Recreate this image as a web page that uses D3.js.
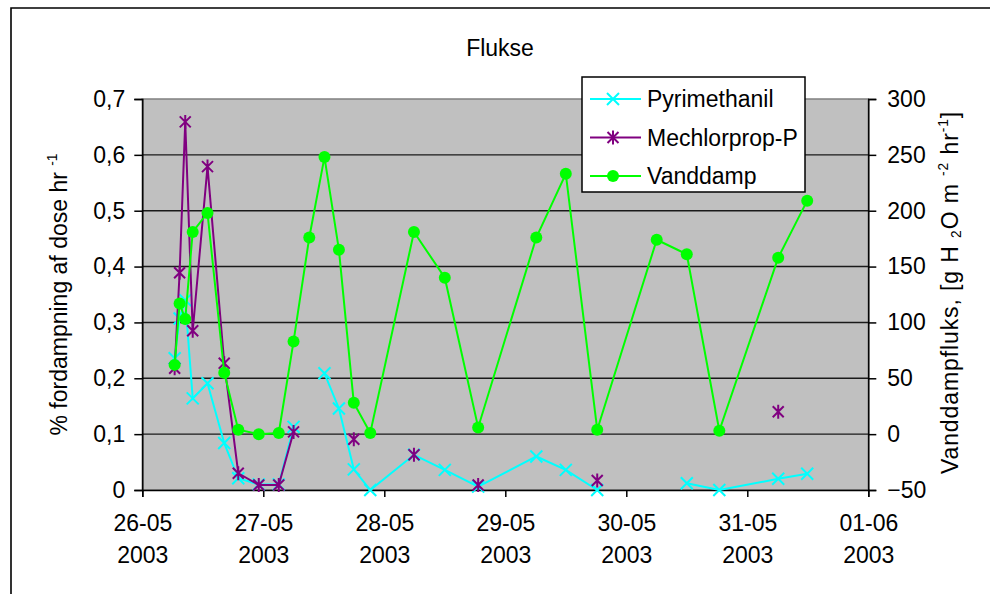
<!DOCTYPE html>
<html>
<head>
<meta charset="utf-8">
<script src="https://cdn.jsdelivr.net/npm/d3@7/dist/d3.min.js"></script>
<style>
  html, body { margin: 0; padding: 0; background: #fff; }
  svg { display: block; font-family: "Liberation Sans", Arial, sans-serif; }
</style>
</head>
<body>
<svg id="chart" width="990" height="594"></svg>
<script>
// Sampling times (shared by all three series)
const times = [
  "2003-05-26 06:25", "2003-05-26 07:24", "2003-05-26 08:31", "2003-05-26 10:00",
  "2003-05-26 12:56", "2003-05-26 16:15", "2003-05-26 19:02", "2003-05-26 23:06",
  "2003-05-27 03:04", "2003-05-27 06:00", "2003-05-27 09:07", "2003-05-27 12:08",
  "2003-05-27 15:00", "2003-05-27 17:57", "2003-05-27 21:13", "2003-05-28 05:53",
  "2003-05-28 12:00", "2003-05-28 18:37", "2003-05-29 06:09", "2003-05-29 12:00",
  "2003-05-29 18:14", "2003-05-30 06:02", "2003-05-30 12:00", "2003-05-30 18:27",
  "2003-05-31 06:08", "2003-05-31 11:53"
];

// % volatilised of dose per hour (left axis)
const pyrimethanil = [
  0.236, 0.307, 0.340, 0.164, 0.191, 0.084, 0.021, 0.010, 0.010, 0.113,
  null, 0.209, 0.146, 0.037, 0.000, 0.063, 0.036, 0.006, 0.060, 0.036,
  0.000, null, 0.012, 0.000, 0.020, 0.029
];
const mechlorprop = [
  0.218, 0.389, 0.659, 0.285, 0.579, 0.227, 0.030, 0.009, 0.009, 0.104,
  null, null, null, 0.091, null, 0.063, null, 0.009, null, null,
  0.017, null, null, null, 0.140, null
];

// Water vapour flux, g H2O m-2 hr-1 (right axis)
const vanddamp = [
  62, 117, 103, 181, 198, 55, 4, 0, 1, 83,
  176, 248, 165, 28, 1, 181, 140, 6, 176, 233,
  4, 174, 161, 3, 158, 209
];

const leftTicks = [0, 0.1, 0.2, 0.3, 0.4, 0.5, 0.6, 0.7];
const rightTicks = [-50, 0, 50, 100, 150, 200, 250, 300];
const dateTicks = ["2003-05-26", "2003-05-27", "2003-05-28", "2003-05-29",
                   "2003-05-30", "2003-05-31", "2003-06-01"];

const seriesNames = ["Pyrimethanil", "Mechlorprop-P", "Vanddamp"];
const seriesColors = ["#00FFFF", "#800080", "#00FF00"];

const parseTime = d3.timeParse("%Y-%m-%d %H:%M");
const parseDay = d3.timeParse("%Y-%m-%d");
const fontSize = 23;

const svg = d3.select("#chart");
const plot = { left: 142.3, right: 868.3, top: 99, bottom: 490 };

const x = d3.scaleTime()
  .domain([parseDay(dateTicks[0]), parseDay(dateTicks[dateTicks.length - 1])])
  .range([plot.left, plot.right]);
const yL = d3.scaleLinear().domain([0, 0.7]).range([plot.bottom, plot.top]);
const yR = d3.scaleLinear().domain([-50, 300]).range([plot.bottom, plot.top]);

const locale = d3.formatLocale({ decimal: ",", thousands: ".", grouping: [3], currency: ["", " kr"] });
const fmtL = d => d === 0 ? "0" : locale.format(".1f")(d);

// Outer chart frame
svg.append("path")
  .attr("d", "M11,594 V8 H990")
  .attr("fill", "none").attr("stroke", "#000").attr("stroke-width", 1.6);

// Title
svg.append("text")
  .attr("x", 500).attr("y", 56)
  .attr("text-anchor", "middle")
  .attr("font-size", fontSize)
  .text("Flukse");

// Plot area
svg.append("rect")
  .attr("x", plot.left).attr("y", plot.top)
  .attr("width", plot.right - plot.left).attr("height", plot.bottom - plot.top)
  .attr("fill", "#C0C0C0").attr("stroke", "#808080").attr("stroke-width", 1.5);

// Horizontal gridlines
svg.append("g")
  .selectAll("line")
  .data(leftTicks.filter(d => d > 0 && d < 0.7))
  .join("line")
  .attr("x1", plot.left).attr("x2", plot.right)
  .attr("y1", d => yL(d)).attr("y2", d => yL(d))
  .attr("stroke", "#1a1a1a").attr("stroke-width", 1.4);

// Axes
const styleAxis = g => {
  g.select(".domain").attr("stroke", "#000").attr("stroke-width", 1.5);
  g.selectAll(".tick line").attr("stroke", "#000").attr("stroke-width", 1.5);
  g.selectAll(".tick text").attr("font-size", fontSize).attr("fill", "#000")
    .attr("font-family", "Liberation Sans, Arial, sans-serif");
};

svg.append("g")
  .attr("transform", `translate(${plot.left},0)`)
  .call(d3.axisLeft(yL).tickValues(leftTicks).tickFormat(fmtL).tickSizeOuter(0).tickSize(8).tickPadding(9))
  .call(styleAxis);

svg.append("g")
  .attr("transform", `translate(${plot.right},0)`)
  .call(d3.axisRight(yR).tickValues(rightTicks).tickFormat(d3.format("d")).tickSizeOuter(0).tickSize(8).tickPadding(11))
  .call(styleAxis);

const xAxis = svg.append("g")
  .attr("transform", `translate(0,${plot.bottom})`)
  .call(d3.axisBottom(x).tickValues(dateTicks.map(parseDay)).tickFormat(d3.timeFormat("%d-%m")).tickSizeOuter(0).tickSize(7).tickPadding(16))
  .call(styleAxis);
xAxis.selectAll(".tick text").each(function(d) {
  const t = d3.select(this);
  const label = t.text();
  t.text(null).attr("dy", null);
  t.append("tspan").attr("x", 0).attr("dy", "0.78em").text(label);
  t.append("tspan").attr("x", 0).attr("dy", "1.38em").text(d3.timeFormat("%Y")(d));
});

// Axis titles
const leftTitle = svg.append("text")
  .attr("transform", `translate(67,${(plot.top + plot.bottom) / 2}) rotate(-90)`)
  .attr("text-anchor", "middle")
  .attr("font-size", fontSize);
leftTitle.append("tspan").text("% fordampning af dose hr  ");
leftTitle.append("tspan").attr("font-size", fontSize * 0.6).attr("dy", -10).text("-1");

const rightTitle = svg.append("text")
  .attr("transform", `translate(958,${(plot.top + plot.bottom) / 2 - 2}) rotate(-90)`)
  .attr("text-anchor", "middle")
  .attr("font-size", fontSize)
  .attr("letter-spacing", 0.9);
rightTitle.append("tspan").text("Vanddampfluks, [g H ");
rightTitle.append("tspan").attr("font-size", fontSize * 0.6).attr("dy", 3).text("2");
rightTitle.append("tspan").attr("dy", -3).text("O m ");
rightTitle.append("tspan").attr("font-size", fontSize * 0.6).attr("dy", -10).text("-2");
rightTitle.append("tspan").attr("dy", 10).text(" hr");
rightTitle.append("tspan").attr("font-size", fontSize * 0.6).attr("dy", -10).text("-1");
rightTitle.append("tspan").attr("dy", 10).text("]");

// Marker drawers
const markers = {
  cross: (g, color) => g.append("path")
    .attr("d", "M-6,-6L6,6M-6,6L6,-6")
    .attr("stroke", color).attr("stroke-width", 2).attr("fill", "none"),
  star: (g, color) => g.append("path")
    .attr("d", "M-5.5,-5.5L5.5,5.5M-5.5,5.5L5.5,-5.5M0,-7L0,7")
    .attr("stroke", color).attr("stroke-width", 2).attr("fill", "none"),
  circle: (g, color) => g.append("circle")
    .attr("r", 6).attr("fill", color).attr("stroke", "none")
};

const seriesList = [
  { name: seriesNames[0], values: pyrimethanil, y: yL, color: seriesColors[0], marker: "cross" },
  { name: seriesNames[1], values: mechlorprop, y: yL, color: seriesColors[1], marker: "star" },
  { name: seriesNames[2], values: vanddamp, y: yR, color: seriesColors[2], marker: "circle" }
];

svg.append("defs").append("clipPath").attr("id", "plotClip")
  .append("rect")
  .attr("x", plot.left - 8).attr("y", plot.top - 8)
  .attr("width", plot.right - plot.left + 16).attr("height", plot.bottom - plot.top + 16);

seriesList.forEach(s => {
  const pts = times.map((t, i) => ({ t: parseTime(t), v: s.values[i] }));
  const line = d3.line()
    .defined(d => d.v != null)
    .x(d => x(d.t))
    .y(d => s.y(d.v));
  const g = svg.append("g").attr("clip-path", "url(#plotClip)");
  g.append("path")
    .datum(pts)
    .attr("d", line)
    .attr("fill", "none")
    .attr("stroke", s.color)
    .attr("stroke-width", 2);
  pts.filter(d => d.v != null).forEach(d => {
    const m = g.append("g").attr("transform", `translate(${x(d.t)},${s.y(d.v)})`);
    markers[s.marker](m, s.color);
  });
});

// Legend
const legend = svg.append("g").attr("transform", "translate(582,77)");
legend.append("rect")
  .attr("width", 223).attr("height", 115)
  .attr("fill", "#fff").attr("stroke", "#000").attr("stroke-width", 1.5);
seriesList.forEach((s, i) => {
  const cy = 22 + i * 38.5;
  const row = legend.append("g").attr("transform", `translate(0,${cy})`);
  row.append("line")
    .attr("x1", 8).attr("x2", 59).attr("y1", 0).attr("y2", 0)
    .attr("stroke", s.color).attr("stroke-width", 2);
  markers[s.marker](row.append("g").attr("transform", "translate(31,0)"), s.color);
  row.append("text")
    .attr("x", 65).attr("y", 8)
    .attr("font-size", fontSize)
    .text(s.name);
});
</script>
</body>
</html>
